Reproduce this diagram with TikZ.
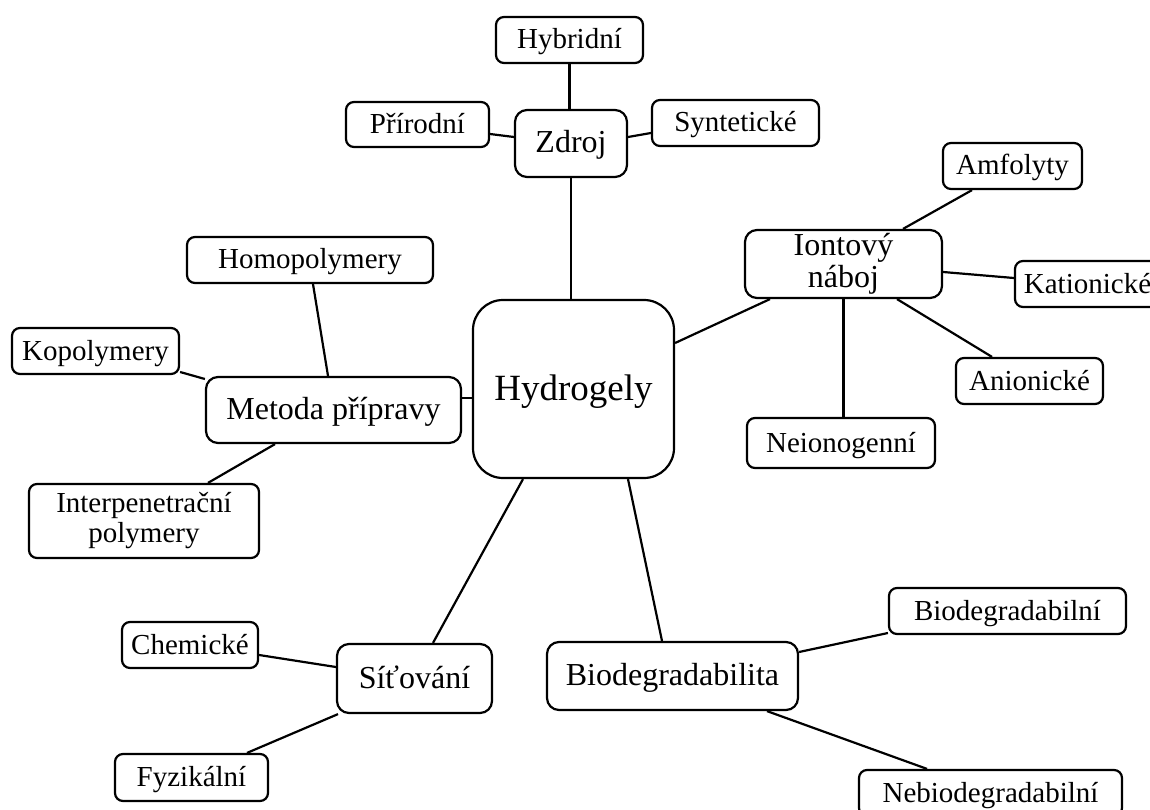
\documentclass[tikz,border=0pt]{standalone}
\usepackage{fontspec}
\setmainfont{Liberation Serif}
\begin{document}
\begin{tikzpicture}[x=1pt,y=-1pt,
  box/.style={draw,line width=2.2pt,rectangle,inner sep=0pt,align=center,fill=white},
  leaf/.style={box,rounded corners=8pt,minimum height=46pt,font=\fontsize{29}{30}\selectfont},
  oneline/.style={text height=20pt,text depth=2pt},
  mid/.style={box,rounded corners=12pt,font=\fontsize{32}{32}\selectfont},
  midone/.style={text height=22pt,text depth=3pt},
  root/.style={box,rounded corners=30pt,font=\fontsize{37}{40}\selectfont,text height=25pt,text depth=3pt},
  link/.style={line width=2.2pt}]
\clip (0,0) rectangle (1150,810);
\fill[white] (0,0) rectangle (1150,810);
% nodes
\node[root,minimum width=201pt,minimum height=178pt] (hyd) at (573.5,389) {Hydrogely};
\node[mid,midone,minimum width=112pt,minimum height=67pt] (zdroj) at (571,143.5) {Zdroj};
\node[leaf,oneline,minimum width=147pt] (hybr) at (569.5,40) {Hybridní};
\node[leaf,oneline,minimum width=143pt,minimum height=45pt] (prir) at (417.5,124.5) {Přírodní};
\node[leaf,oneline,minimum width=167pt] (synt) at (735.5,123) {Syntetické};
\node[mid,minimum width=197pt,minimum height=68pt] (iont) at (843.5,264) {Iontový\\náboj};
\node[leaf,oneline,minimum width=139pt] (amf) at (1012.5,166) {Amfolyty};
\node[leaf,oneline,minimum width=145pt] (kat) at (1087.5,284) {Kationické};
\node[leaf,oneline,minimum width=147pt] (anion) at (1029.5,381) {Anionické};
\node[leaf,oneline,minimum width=188pt,minimum height=50pt] (neion) at (841,443) {Neionogenní};
\node[leaf,oneline,minimum width=246pt] (homo) at (310,260) {Homopolymery};
\node[leaf,oneline,minimum width=167pt] (kopo) at (95.5,351) {Kopolymery};
\node[mid,midone,minimum width=255pt,minimum height=66pt] (metoda) at (333.5,410) {Metoda přípravy};
\node[leaf,minimum width=230pt,minimum height=74pt] (inter) at (144,521) {Interpenetrační\\polymery};
\node[leaf,oneline,minimum width=136pt] (chem) at (190,645) {Chemické};
\node[mid,midone,minimum width=155pt,minimum height=69pt] (sit) at (414.5,678.5) {Síťování};
\node[leaf,oneline,minimum width=153pt,minimum height=47pt] (fyz) at (191.5,777.5) {Fyzikální};
\node[mid,midone,minimum width=251pt,minimum height=68pt] (biot) at (672.5,676) {Biodegradabilita};
\node[leaf,oneline,minimum width=237pt] (biol) at (1007.5,611) {Biodegradabilní};
\node[leaf,oneline,minimum width=263pt] (nebio) at (990.5,793) {Nebiodegradabilní};
% connectors
\draw[link] (hybr.south) -- (hybr.south |- zdroj.north);
\draw[link] ([shift={(0,9.5)}]prir.east) -- ([shift={(0,-6.5)}]zdroj.west);
\draw[link] ([shift={(0,-6.5)}]zdroj.east) -- ([shift={(0,10)}]synt.west);
\draw[link] (zdroj.south) -- (zdroj.south |- hyd.north);
\draw[link] ([shift={(0,-46)}]hyd.east) -- ([shift={(-73.5,0)}]iont.south);
\draw[link] ([shift={(-40.5,0)}]amf.south) -- ([shift={(59.5,0)}]iont.north);
\draw[link] ([shift={(0,8)}]iont.east) -- ([shift={(0,-6)}]kat.west);
\draw[link] ([shift={(53.5,0)}]iont.south) -- ([shift={(-37.5,0)}]anion.north);
\draw[link] (iont.south) -- (iont.south |- neion.north);
\draw[link] ([shift={(0,-12)}]metoda.east) -- ([shift={(0,9)}]hyd.west);
\draw[link] ([shift={(3,0)}]homo.south) -- ([shift={(-5.5,0)}]metoda.north);
\draw[link] ([shift={(0,21)}]kopo.east) -- ([shift={(0,-31)}]metoda.west);
\draw[link] ([shift={(-58.5,0)}]metoda.south) -- ([shift={(64,0)}]inter.north);
\draw[link] ([shift={(-50.5,0)}]hyd.south) -- ([shift={(18.5,0)}]sit.north);
\draw[link] ([shift={(0,10)}]chem.east) -- ([shift={(0,-11.5)}]sit.west);
\draw[link] ([shift={(-76.5,0)}]sit.south) -- ([shift={(55.5,0)}]fyz.north);
\draw[link] ([shift={(54.5,0)}]hyd.south) -- ([shift={(-10.5,0)}]biot.north);
\draw[link] ([shift={(0,-24)}]biot.east) -- ([shift={(0,22)}]biol.west);
\draw[link] ([shift={(94.5,0)}]biot.south) -- ([shift={(-63.5,0)}]nebio.north);
\end{tikzpicture}
\end{document}
